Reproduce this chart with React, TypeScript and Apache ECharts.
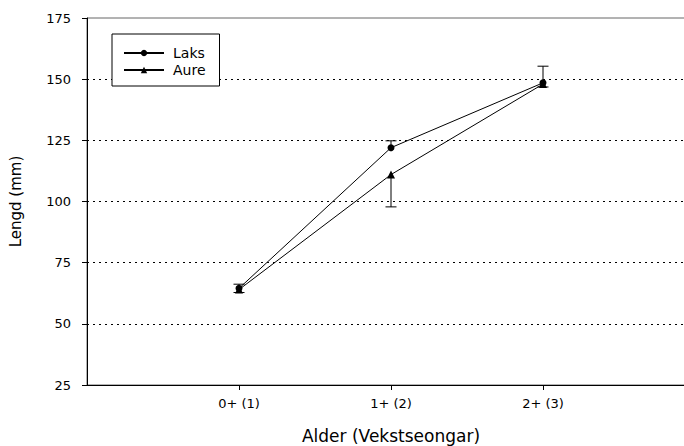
import React, { useEffect, useRef } from "react";
import * as echarts from "echarts";

const categories = ["0+ (1)", "1+ (2)", "2+ (3)"];
const xPositions = [1, 2, 3];
const laksMean = [64.5, 122, 148.5];
const laksUpper = [66.2, 124.8, 155.3];
const aureMean = [64, 111, 148];
const aureLower = [62.8, 97.8, 146.8];
const yMin = 25;
const yMax = 175;
const yInterval = 25;

const FONT = "DejaVu Sans";

export default function App() {
  const ref = useRef<HTMLDivElement>(null);
  useEffect(() => {
    if (!ref.current) return;
    const chart = echarts.init(ref.current, undefined, { renderer: "svg" });
    const errRender = (params: any, api: any) => {
      const x = api.value(0);
      const lo = api.value(1);
      const hi = api.value(2);
      const p1 = api.coord([x, lo]);
      const p2 = api.coord([x, hi]);
      const w = 5.5;
      const st = { stroke: "#000", lineWidth: 1 };
      return {
        type: "group",
        children: [
          { type: "line", shape: { x1: p1[0], y1: p1[1], x2: p2[0], y2: p2[1] }, style: st },
          { type: "line", shape: { x1: p2[0] - w, y1: p2[1], x2: p2[0] + w, y2: p2[1] }, style: st },
        ],
      };
    };
    const nSplit = (yMax - yMin) / yInterval + 1;
    const splitColors = Array.from({ length: nSplit }, (_, i) =>
      i === 0 || i === nSplit - 1 ? "rgba(0,0,0,0)" : "#000"
    );
    chart.setOption({
      animation: false,
      textStyle: { fontFamily: FONT },
      grid: {
        left: 87,
        top: 18,
        width: 608,
        height: 367,
        show: true,
        borderColor: "#666",
        borderWidth: 1,
        backgroundColor: "transparent",
        containLabel: false,
        outerBoundsMode: "none",
      },
      legend: {
        left: 112,
        top: 34,
        orient: "vertical",
        padding: [12, 14, 9, 11],
        itemGap: 3,
        itemWidth: 40,
        itemHeight: 8,
        borderColor: "#000",
        borderWidth: 1,
        borderRadius: 0,
        backgroundColor: "#fff",
        textStyle: { fontFamily: FONT, fontSize: 14, color: "#000", padding: [0, 0, 0, 4], lineHeight: 14 },
        data: ["Laks", "Aure"],
      },
      xAxis: {
        type: "value",
        min: 0,
        max: 4,
        interval: 1,
        name: "Alder (Vekstseongar)",
        nameLocation: "middle",
        nameGap: 42,
        nameTextStyle: { fontFamily: FONT, fontSize: 17, color: "#000" },
        axisLine: { show: true, lineStyle: { color: "#000", width: 1 } },
        axisTick: { show: true, inside: false, length: 5, customValues: xPositions, lineStyle: { color: "#000" } },
        axisLabel: {
          customValues: xPositions,
          margin: 12,
          fontFamily: FONT,
          fontSize: 13,
          color: "#000",
          formatter: (v: number) => {
            const i = xPositions.indexOf(v);
            return i >= 0 ? categories[i] : "";
          },
        },
        splitLine: { show: false },
      },
      yAxis: {
        type: "value",
        min: yMin,
        max: yMax,
        interval: yInterval,
        name: "Lengd (mm)",
        nameLocation: "middle",
        nameGap: 64,
        nameTextStyle: { fontFamily: FONT, fontSize: 15, color: "#000" },
        axisLine: { show: true, lineStyle: { color: "#000", width: 1 } },
        axisTick: { show: true, inside: false, length: 5, lineStyle: { color: "#000" } },
        axisLabel: { margin: 16, fontFamily: FONT, fontSize: 13, color: "#000" },
        splitLine: {
          show: true,
          lineStyle: { color: splitColors, width: 1, type: [2, 4] },
        },
      },
      series: [
        {
          name: "Laks",
          type: "line",
          data: laksMean.map((v, i) => [xPositions[i], v]),
          symbol: "circle",
          symbolSize: 7,
          lineStyle: { color: "#000", width: 1 },
          itemStyle: { color: "#000" },
          z: 3,
        },
        {
          name: "Aure",
          type: "line",
          data: aureMean.map((v, i) => [xPositions[i], v]),
          symbol: "triangle",
          symbolSize: 8,
          lineStyle: { color: "#000", width: 1 },
          itemStyle: { color: "#000" },
          z: 3,
        },
        {
          name: "Laks err",
          type: "custom",
          renderItem: errRender,
          data: laksMean.map((v, i) => [xPositions[i], v, laksUpper[i]]),
          z: 2,
        },
        {
          name: "Aure err",
          type: "custom",
          renderItem: errRender,
          data: aureMean.map((v, i) => [xPositions[i], v, aureLower[i]]),
          z: 2,
        },
      ],
    });
    return () => chart.dispose();
  }, []);
  return (
    <div
      style={{ position: "fixed", left: 0, top: 0, width: 684, height: 446, overflow: "hidden", background: "#fff" }}
    >
      <div ref={ref} style={{ width: 740, height: 446 }} />
    </div>
  );
}
